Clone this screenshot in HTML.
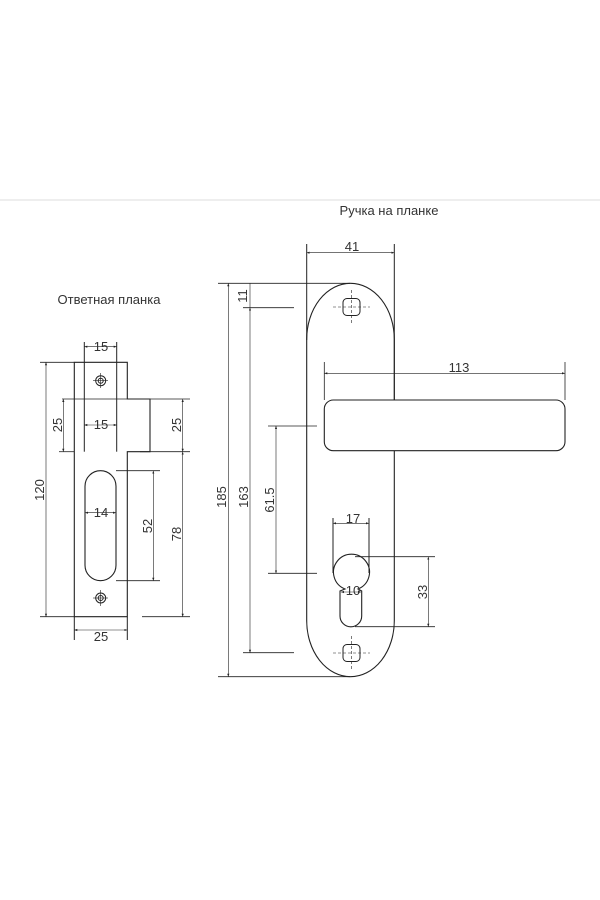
<!DOCTYPE html>
<html><head><meta charset="utf-8"><style>
html,body{margin:0;padding:0;background:#fff;}
svg{display:block;}
text{font-family:"Liberation Sans",sans-serif;fill:#333;font-size:13px;}
</style></head><body>
<svg width="600" height="900" viewBox="0 0 600 900">
<defs>
<marker id="a" viewBox="0 0 6 6" refX="6" refY="3" markerWidth="5" markerHeight="5" orient="auto-start-reverse"><path d="M0,0.8L6,3L0,5.2z" fill="#222"/></marker>
</defs>
<rect x="0" y="199" width="600" height="2" fill="#eee"/>
<text x="389" y="215" text-anchor="middle" font-size="13">Ручка на планке</text>
<text x="109" y="304" text-anchor="middle" font-size="13">Ответная планка</text>

<g stroke="#222" stroke-width="1" fill="none">
<path d="M74.3,362.3H127.3V399H150V451.7H127.3V616.7H74.3Z" stroke-width="1.1"/>
<line x1="127.3" y1="616.7" x2="127.3" y2="640"/>
<line x1="74.3" y1="616.7" x2="74.3" y2="640"/>
<line x1="84.3" y1="342" x2="84.3" y2="451.7"/>
<line x1="116.7" y1="342" x2="116.7" y2="399"/>
<line x1="116.7" y1="399" x2="116.7" y2="451.7"/>
<line x1="62" y1="399" x2="190" y2="399" stroke-width="0.8"/>
<line x1="59" y1="451.7" x2="74.3" y2="451.7" stroke-width="0.8"/>
<line x1="140" y1="451.7" x2="190" y2="451.7" stroke-width="0.8"/>
<line x1="40" y1="362.3" x2="74.3" y2="362.3" stroke-width="0.8"/>
<line x1="40" y1="616.7" x2="74.3" y2="616.7" stroke-width="0.8"/>
<line x1="142" y1="616.7" x2="190" y2="616.7" stroke-width="0.8"/>
<rect x="85" y="470.7" width="31" height="110" rx="15.5" stroke-width="1.1"/>
<line x1="116" y1="470.7" x2="160" y2="470.7" stroke-width="0.8"/>
<line x1="116" y1="580.7" x2="160" y2="580.7" stroke-width="0.8"/>
<circle cx="100.7" cy="380.7" r="5"/><circle cx="100.7" cy="380.7" r="2.5"/>
<line x1="93" y1="380.7" x2="108" y2="380.7" stroke-width="0.6"/><line x1="100.7" y1="373" x2="100.7" y2="388" stroke-width="0.6"/>
<circle cx="100.7" cy="598" r="5"/><circle cx="100.7" cy="598" r="2.5"/>
<line x1="93" y1="598" x2="108" y2="598" stroke-width="0.6"/><line x1="100.7" y1="590" x2="100.7" y2="606" stroke-width="0.6"/>
<g stroke-width="0.6" marker-start="url(#a)" marker-end="url(#a)">
<line x1="84.3" y1="346.7" x2="116.7" y2="346.7"/>
<line x1="84.3" y1="425" x2="116.7" y2="425"/>
<line x1="85" y1="512.7" x2="116" y2="512.7"/>
<line x1="74.3" y1="630" x2="127.3" y2="630"/>
<line x1="46" y1="362.3" x2="46" y2="616.7"/>
<line x1="63.3" y1="399" x2="63.3" y2="451.7"/>
<line x1="182.7" y1="399" x2="182.7" y2="451.7"/>
<line x1="182.7" y1="451.7" x2="182.7" y2="616.7"/>
<line x1="153.3" y1="470.7" x2="153.3" y2="580.7"/>
</g>

<rect x="306.7" y="283.3" width="87.6" height="393.4" rx="43.8" ry="56" stroke-width="1.1"/>
<line x1="306.7" y1="244" x2="306.7" y2="340"/>
<line x1="394.3" y1="244" x2="394.3" y2="400"/>
<rect x="324.3" y="400" width="240.7" height="50.7" rx="9" fill="#fff" stroke-width="1.1"/>
<line x1="324.3" y1="362" x2="324.3" y2="400" stroke-width="0.8"/>
<line x1="565" y1="362" x2="565" y2="400" stroke-width="0.8"/>
<rect x="343" y="298.5" width="17" height="17" rx="4"/>
<line x1="333" y1="307" x2="370" y2="307" stroke-width="0.6" stroke-dasharray="3,2"/>
<line x1="351.5" y1="290" x2="351.5" y2="325" stroke-width="0.6" stroke-dasharray="3,2"/>
<rect x="343" y="644.5" width="17" height="17" rx="4"/>
<line x1="333" y1="653" x2="370" y2="653" stroke-width="0.6" stroke-dasharray="3,2"/>
<line x1="351.5" y1="636" x2="351.5" y2="671" stroke-width="0.6" stroke-dasharray="3,2"/>
<path d="M345,589 A18,18 0 1 1 358,589 L361.7,591 V616 A10.8,10.8 0 0 1 340,616 V591 Z" stroke-width="1.1"/>
<line x1="333" y1="518" x2="333" y2="573"/>
<line x1="369" y1="518" x2="369" y2="573"/>
<line x1="355" y1="556.7" x2="435" y2="556.7" stroke-width="0.8"/>
<line x1="355" y1="626.7" x2="435" y2="626.7" stroke-width="0.8"/>
<line x1="218" y1="283.3" x2="350" y2="283.3" stroke-width="0.8"/>
<line x1="218" y1="676.7" x2="350" y2="676.7" stroke-width="0.8"/>
<line x1="243" y1="307.7" x2="294" y2="307.7" stroke-width="0.8"/>
<line x1="243" y1="652.7" x2="294" y2="652.7" stroke-width="0.8"/>
<line x1="268" y1="426" x2="317" y2="426" stroke-width="0.8"/>
<line x1="268" y1="573.3" x2="317" y2="573.3" stroke-width="0.8"/>
<g stroke-width="0.6" marker-start="url(#a)" marker-end="url(#a)">
<line x1="306.7" y1="252.7" x2="394.3" y2="252.7"/>
<line x1="324.3" y1="373.3" x2="565" y2="373.3"/>
<line x1="228.3" y1="283.3" x2="228.3" y2="676.7"/>
<line x1="250" y1="307.7" x2="250" y2="652.7"/>
<line x1="276" y1="426" x2="276" y2="573.3"/>
<line x1="333" y1="523.3" x2="369" y2="523.3"/>
<line x1="341" y1="592" x2="361" y2="592"/>
<line x1="428.3" y1="556.7" x2="428.3" y2="626.7"/>
</g>
<line x1="250" y1="283.3" x2="250" y2="307.7" stroke-width="0.6"/>
</g>

<text x="101" y="351" text-anchor="middle">15</text>
<text x="101" y="429" text-anchor="middle">15</text>
<text x="101" y="517" text-anchor="middle">14</text>
<text x="101" y="641" text-anchor="middle">25</text>
<text transform="translate(44,490) rotate(-90)" text-anchor="middle">120</text>
<text transform="translate(62,425) rotate(-90)" text-anchor="middle">25</text>
<text transform="translate(181,425) rotate(-90)" text-anchor="middle">25</text>
<text transform="translate(181,534) rotate(-90)" text-anchor="middle">78</text>
<text transform="translate(152,526) rotate(-90)" text-anchor="middle">52</text>

<text x="352" y="251" text-anchor="middle">41</text>
<text x="459" y="372" text-anchor="middle">113</text>
<text x="353" y="523" text-anchor="middle">17</text>
<text x="353" y="595" text-anchor="middle">10</text>
<text transform="translate(427,592) rotate(-90)" text-anchor="middle">33</text>
<text transform="translate(226,497) rotate(-90)" text-anchor="middle">185</text>
<text transform="translate(248,497) rotate(-90)" text-anchor="middle">163</text>
<text transform="translate(274,500) rotate(-90)" text-anchor="middle">61.5</text>
<text transform="translate(247,296) rotate(-90)" text-anchor="middle" font-size="11">11</text>
</svg>
</body></html>
